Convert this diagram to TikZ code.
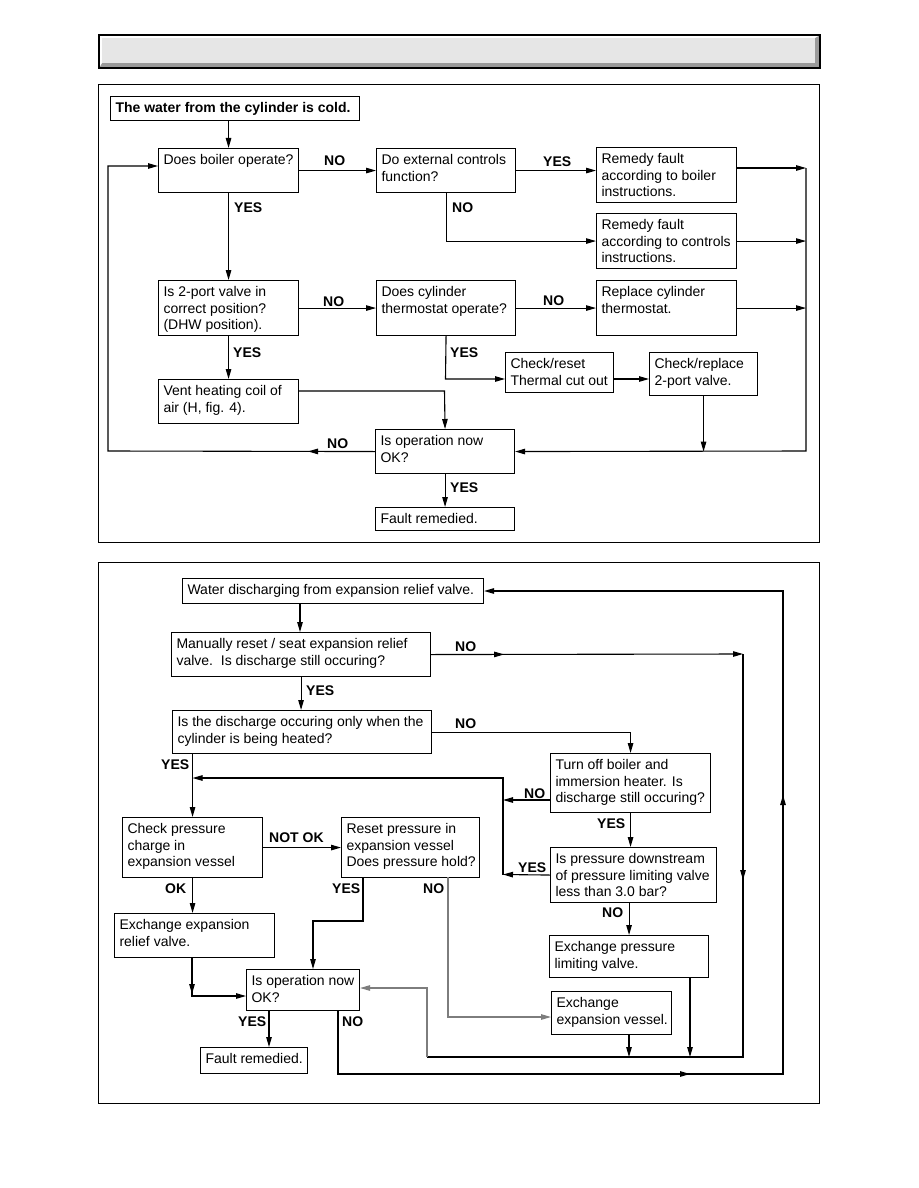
\documentclass[tikz,border=0pt]{standalone}
\usepackage{fontspec}
\setmainfont{Liberation Sans}
\usetikzlibrary{arrows.meta,decorations.markings}
\definecolor{hface}{RGB}{230,230,230}
\definecolor{hdark}{RGB}{154,154,154}
\definecolor{lgray}{RGB}{125,125,125}
\newcommand{\bt}[3]{\parbox[c][#2pt][t]{#1pt}{\raggedright\leftskip=5pt\rule{0pt}{16pt}#3}}
\begin{document}
\begin{tikzpicture}[x=1pt,y=-1pt,
  >={Triangle[length=10pt,width=5.5pt]},
  font=\fontsize{14}{16.7}\selectfont,
  box/.style={draw,line width=1.1pt,inner sep=0pt,anchor=north west},
  lbl/.style={font=\fontsize{14}{16.7}\selectfont\bfseries,inner sep=0pt,anchor=base west},
  conn/.style={line width=1.1pt,->},
  plain/.style={line width=1.1pt},
  ma/.style={postaction={decorate,decoration={markings,mark=at position #1 with {\arrow{>}}}}},
  mb/.style 2 args={postaction={decorate,decoration={markings,mark=at position #1 with {\arrow{>}},mark=at position #2 with {\arrow{>}}}}}
]
\useasboundingbox (0,0) rectangle (918,1188);
\fill[white] (0,0) rectangle (918,1188);
% header bar
\fill[hdark] (99,35) rectangle (820,68);
\fill[white] (99,35) -- (820,35) -- (815,38) -- (102,38) -- (102,63) -- (99,68) -- cycle;
\fill[hface] (102,38) rectangle (815,63);
\draw[line width=1.2pt] (99,35) rectangle (820,68);
% panels
\draw[line width=1pt] (98,85) rectangle (819,542);
\draw[line width=1pt] (98,562) rectangle (819,1103);

% ---------- top chart ----------
\node[box] (title) at (110,96) {\bt{249}{24}{\bfseries The water from the cylinder is cold.}};
\node[box] (boiler) at (158,148) {\bt{140}{44}{Does boiler operate?}};
\node[box] (ext) at (376,148) {\bt{139}{44}{Do external controls\\function?}};
\node[box] (rb) at (596,147) {\bt{140}{55}{Remedy fault\\according to boiler\\instructions.}};
\node[box] (rc) at (596,213) {\bt{140}{55}{Remedy fault\\according to controls\\instructions.}};
\node[box] (valve) at (158,280) {\bt{140}{55}{Is 2-port valve in\\correct position?\\(DHW position).}};
\node[box] (thermo) at (376,280) {\bt{139}{55}{Does cylinder\\thermostat operate?}};
\node[box] (rt) at (596,280) {\bt{140}{55}{Replace cylinder\\thermostat.}};
\node[box] (tco) at (505,352) {\bt{108}{40}{Check/reset\\Thermal cut out}};
\node[box] (cr) at (649,352) {\bt{108}{43}{Check/replace\\2-port valve.}};
\node[box] (vent) at (158,379) {\bt{140}{44}{Vent heating coil of\\air (H, fig. 4).}};
\node[box] (op) at (375,429) {\bt{139}{44}{Is operation now\\OK?}};
\node[box] (fr) at (375,507) {\bt{139}{23}{Fault remedied.}};

\coordinate (busT) at (806,168);
\coordinate (busB) at (806,451);
\coordinate (j1) at (445.5,379);
\coordinate (j2) at (444.5,391);
\coordinate (l1) at (108,451);
\coordinate (l2) at (108,166);

\draw[conn] (boiler.north |- title.south) -- (boiler.north);
\draw[conn] (boiler.east) -- (ext.west);
\draw[conn] (boiler.south) -- (valve.north);
\draw[conn] (ext.east) -- (ext.east -| rb.west);
\draw[conn] (ext.south) |- (rc.west);
\draw[conn] (rb.east |- busT) -- (busT);
\draw[conn] (rc.east) -- (rc.east -| busT);
\draw[conn] (rt.east) -- (rt.east -| busT);
\draw[conn] (busT) -- (busB) -- (op.east);
\draw[conn] (cr.south) -- (cr.south |- op.east);
\draw[conn] (valve.east) -- (thermo.west);
\draw[conn] (thermo.east) -- (rt.west);
\draw[conn] (thermo.south |- thermo.south) -- (j1) -- (j1 -| tco.west);
\draw[conn] (tco.east |- j1) -- (j1 -| cr.west);
\draw[conn] (valve.south) -- (vent.north);
\draw[conn] (vent.east |- j2) -- (j2) -- (op.north);
\draw[conn,ma=67pt] (op.west) -- (l1) -- (l2) -- (l2 -| boiler.west);
\draw[conn] (op.south) -- (fr.north);

\node[lbl] (n1) at (324,165) {NO};
\node[lbl] (y1) at (234,212) {YES};
\node[lbl] (y2) at (543,166) {YES};
\node[lbl] (n2) at (452,212) {NO};
\node[lbl] (n3) at (323,306) {NO};
\node[lbl] (n4) at (543,305) {NO};
\node[lbl] (y3) at (450,357) {YES};
\node[lbl] (y4) at (233,357) {YES};
\node[lbl] (n5) at (327,448) {NO};
\node[lbl] (y5) at (450,492) {YES};

% ---------- bottom chart ----------
\node[box] (W) at (182,578) {\bt{301}{25}{Water discharging from expansion relief valve.}};
\node[box] (M) at (171,632) {\bt{259}{44}{Manually reset / seat expansion relief\\valve.\ \ Is discharge still occuring?}};
\node[box] (D) at (172,710) {\bt{259}{43}{Is the discharge occuring only when the\\cylinder is being heated?}};
\node[box] (T) at (550,753) {\bt{160}{59}{Turn off boiler and\\immersion heater. Is\\discharge still occuring?}};
\node[box] (P) at (550,847) {\bt{166}{55}{Is pressure downstream\\of pressure limiting valve\\less than 3.0 bar?}};
\node[box] (C) at (122,817) {\bt{140}{60}{Check pressure\\charge in\\expansion vessel}};
\node[box] (R) at (341,817) {\bt{138}{60}{Reset pressure in\\expansion vessel\\Does pressure hold?}};
\node[box] (E1) at (114,913) {\bt{160}{44}{Exchange expansion\\relief valve.}};
\node[box] (O) at (246,969) {\bt{113}{41}{Is operation now\\OK?}};
\node[box] (F) at (200,1047) {\bt{107}{26}{Fault remedied.}};
\node[box] (EP) at (549,935) {\bt{159}{42}{Exchange pressure\\limiting valve.}};
\node[box] (EV) at (551,991) {\bt{120}{43}{Exchange\\expansion vessel.}};

\coordinate (cW) at (300,603);
\coordinate (m1) at (743,654);
\coordinate (m2) at (743,1057);
\coordinate (m3) at (427,1057);
\coordinate (m4) at (427,988);
\coordinate (evx) at (629,1034);
\coordinate (epx) at (690,977);
\coordinate (t1) at (503,800);
\coordinate (p1) at (503,874.5);
\coordinate (q1) at (503,778);
\coordinate (r1) at (363,877);
\coordinate (r2) at (363,921);
\coordinate (r3) at (313,921);
\coordinate (r4) at (448,877);
\coordinate (r5) at (448,1017);
\coordinate (e1) at (192,957);
\coordinate (e2) at (192,996);
\coordinate (o1) at (269,1010);
\coordinate (o2) at (338,1010);
\coordinate (o3) at (338,1074);
\coordinate (o4) at (783,1074);
\coordinate (o5) at (783,591);

\draw[conn] (cW) -- (cW |- M.north);
\draw[conn] (M.south) -- (M.south |- D.north);
\draw[conn,ma=73pt] (M.east) -- (m1);
\draw[plain,ma=226pt] (m1) -- (m2) -- (m3);
\draw[conn,draw=lgray] (m3) -- (m4) -- (m4 -| O.east);
\draw[conn] (evx) -- (evx |- m2);
\draw[conn] (epx) -- (epx |- m2);
\draw[conn] (D.east) -| (T.north);
\draw[conn] (C.north |- D.south) -- (C.north);
\draw[conn] (T.west |- t1) -- (t1);
\draw[conn] (P.west) -- (p1);
\draw[conn] (p1) -- (q1) -- (q1 -| C.north);
\draw[conn] (T.south) -- (T.south |- P.north);
\draw[conn] (EP.north |- P.south) -- (EP.north);
\draw[conn] (C.east) -- (C.east -| R.west);
\draw[conn] (C.south) -- (C.south |- E1.north);
\draw[conn] (r1) -- (r2) -- (r3) -- (r3 |- O.north);
\draw[conn,draw=lgray] (r4) -- (r5) -- (r5 -| EV.west);
\draw[conn,ma=37pt] (e1) -- (e2) -- (e2 -| O.west);
\draw[conn] (o1) -- (o1 |- F.north);
\draw[conn,mb={416pt}{788pt}] (o2) -- (o3) -- (o4) -- (o5) -- (o5 -| W.east);

\node[lbl] (n6) at (455,651) {NO};
\node[lbl] (y6) at (306,695) {YES};
\node[lbl] (n7) at (455,728) {NO};
\node[lbl] (y7) at (161,769) {YES};
\node[lbl] (n8) at (524,798) {NO};
\node[lbl] (y8) at (597,828) {YES};
\node[lbl] (y9) at (518,872) {YES};
\node[lbl] (n9) at (602,917) {NO};
\node[lbl] (nok) at (269,842) {NOT OK};
\node[lbl] (ok) at (165,893) {OK};
\node[lbl] (y10) at (332,893) {YES};
\node[lbl] (n10) at (423,893) {NO};
\node[lbl] (y11) at (238,1026) {YES};
\node[lbl] (n11) at (342,1026) {NO};
\end{tikzpicture}
\end{document}
